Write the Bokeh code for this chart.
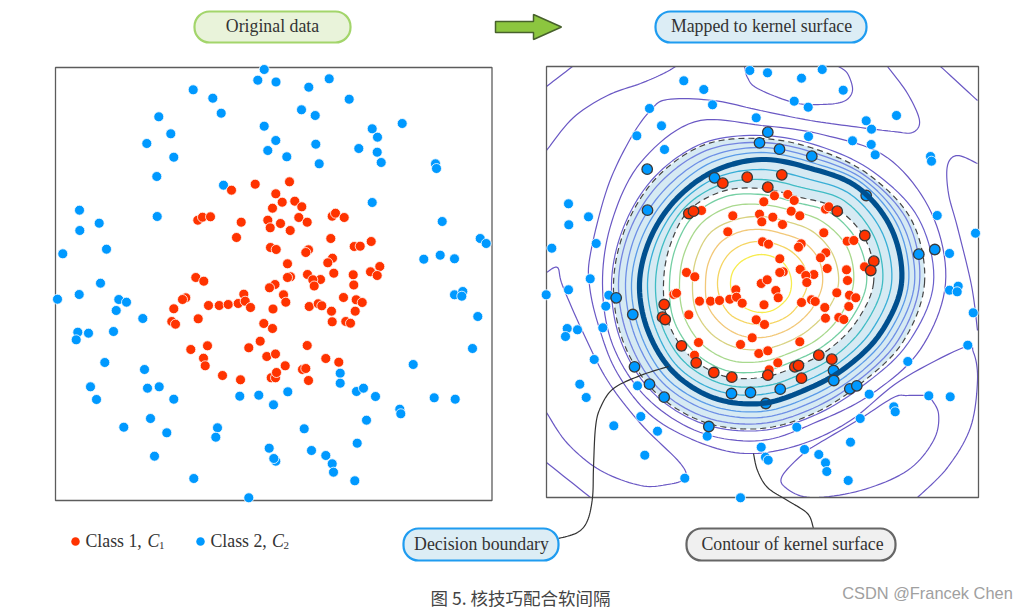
import numpy as np
from bokeh.plotting import figure
from bokeh.models import Range1d
from bokeh.core.properties import value
from bokeh.embed import file_html
from bokeh.resources import INLINE

# ---------- data (image pixel coordinates) ----------
LEFT_BLUE = [(263.7,69),(257.3,79.7),(275.5,81.5),(192.7,89.3),(212.3,97.7),(220.7,112.7),(158.3,116.3),(170.3,133.3),
 (146.3,143),(173.3,156.7),(156.3,176),(263.7,125.7),(275.3,140),(267.3,150),(223,184.7),(79,209.7),(98.7,222.7),
 (79.3,230),(156.7,216),(106,248.7),(62.3,253.3),(100,282.7),(308.3,86.7),(328.7,78.3),(348.7,98.7),(301,109.3),
 (314.7,115),(401.7,123),(371.7,128.3),(377,136.7),(315.3,143.7),(358.3,148),(376.7,151.7),(380.7,162),(286.3,156.3),
 (318.7,163.3),(435,163.3),(436,168),(371.7,202),(441.7,221),(479.7,238),(485.7,243),(423.3,258.7),(439.7,254.7),
 (454,258.3),(57,298.7),(78.7,294),(118.3,299),(126,301.7),(115.7,310),(142.3,318),(77.3,331.7),(88,332.7),(113,331),
 (75.7,339.3),(104.3,362),(144,369),(90,386.3),(147,387.7),(158.7,386.3),(96,399),(173.3,398.7),(150,418),(123.3,426.7),
 (166.3,432.3),(217,427.3),(215.3,436.7),(154,455.7),(193.3,478),(239.3,395.7),(258.3,394.7),(273,404.3),(268.7,447.7),
 (275.3,460.7),(273.3,458),(248.3,497.3),(454,294.3),(462.3,291),(461.3,295.7),(477.3,316),(472,348),(412.7,364),
 (339.7,372.7),(339.7,382.7),(287.3,391.3),(356,391),(363,387.7),(375,396),(433.7,397.3),(454.7,398.7),(399.3,408.7),
 (400.3,413.3),(366,419.7),(303.7,428.3),(356.7,442.7),(311,450),(325.3,455),(331.7,463.3),(333,471.7),(354.3,480.3)]
LEFT_RED = [(231,189.7),(254.7,183.7),(275.3,193.3),(272,207.7),(267.3,219.7),(269.7,227.3),(240.7,221.7),(236,237),
 (270,247),(197.3,219.7),(202,216.7),(210,216.3),(195.3,277),(203.3,280.7),(289,181.3),(281.7,201.7),(294.3,200.7),
 (301.3,206.3),(298.3,217),(306.7,221.7),(280,223),(289.7,230),(330.3,238),(331.7,215.7),(335,212.7),(343.7,217),
 (370.7,241),(353.7,246),(359.7,245.7),(275.7,249),(308,249.3),(305.3,252),(332,257.7),(327.3,262.3),(287,263.3),
 (379.3,266),(370,271.3),(376.7,275),(333.3,272.7),(352.7,274.3),(307,274),(290,276.3),(287,277),(320,279),(312.3,279.3),
 (313.7,285.5),(353.3,284.5),(274.5,284),(185.3,297.3),(182,299),(173.3,308.3),(171.3,321),(175,323.7),(197.7,318.3),
 (208,305),(218.7,305),(227.7,304),(237.7,303),(243.3,293.7),(244.7,300.7),(250,307),(269,287.3),(272.5,308.5),
 (263.3,323),(272,328),(259.7,340.7),(248.3,347.3),(266.3,356),(275,353.5),(207,345.3),(190.3,349),(203,357.7),
 (204.7,365.3),(222,375),(240,379.3),(270.7,377.3),(275,377.3),(276,372),(283,294.3),(285.3,301.7),(308.7,306),
 (317.7,303.3),(321.3,305.3),(331,310.7),(343,297),(355.7,299.3),(361.7,302),(354.7,310.7),(331.7,321.3),(345.3,321),
 (350,322.7),(306.7,345),(284.7,365.3),(325.3,358),(338.3,361.7),(302,369),(305.3,368),(308,380)]

RIGHT_BLUE = [(749.3,70),(767,72.3),(683.3,80.3),(703.3,89),(712,104.3),(649,108),(661,125.3),(636.3,135.3),(664,149),
 (755.7,117.3),(568,203.3),(588,216.3),(568.3,224.3),(595.7,243),(551.3,247.7),(589.7,278.3),(801,77.7),(821.7,69),
 (842.7,89.7),(793.7,100.7),(807.7,106.7),(896,115),(865.7,120.3),(871,128.7),(808,136),(852,140.3),(870.7,144),
 (874.7,154.3),(930,156),(931,160.7),(936.7,215),(975,232.7),(949,253),(545.7,294.3),(568,289.3),(608.3,294.7),
 (605.3,305.7),(602.3,327.3),(566.7,328),(577,329.3),(565,336),(593.7,359),(579.3,383.7),(637,385.3),(585.7,397),
 (640.3,416),(613.3,425.3),(657,430.7),(706.7,435.7),(644.3,454.7),(684.3,477.7),(740,497.3),(760.7,446.7),(765,456.7),
 (767.7,459.7),(949,289.7),(957.7,285.7),(956.7,291.3),(972.7,312.3),(967.3,344.7),(907.3,361),(868.7,393.7),
 (928.3,395.3),(949.7,396.3),(893.3,406.3),(894.7,411.3),(859.7,418),(796.3,426.7),(850,441.7),(804,449),(818.3,454),
 (825,462.3),(826.3,471),(847.7,480)]
RIGHT_BLUE_SV = [(646.7,168.7),(647,209.7),(759,142.3),(767.3,131.7),(714,177.3),(779,148.7),(811.3,155.7),(918.3,253.7),
 (934.3,249),(615.7,297.3),(632.3,314),(634,366.3),(649,383.7),(663.7,396.7),(708.3,426),(731,393),(750,392),
 (833.3,380),(779.7,388.7),(849.3,388.3),(856.3,385.3)]
RIGHT_BLUE_UNDER = [(865.7,195),(833,370),(765.3,403)]
RIGHT_RED_SV = [(746.7,176.7),(722.3,182.7),(767.3,186.7),(688.3,213),(693,210.7),(781.3,174.3),(836.7,210.7),(864.3,235),
 (873.3,260.7),(870.3,270),(663.7,304),(662,316.7),(664.7,319),(681,345.3),(695.7,362.3),(713.3,372),(731.3,376.7),
 (767.3,374.7),(818.3,354.7),(831.3,358.7),(794.3,366.3),(798,365),(801,377.7)]
RIGHT_RED = [(701,210),(732.3,215.3),(727.3,231.3),(759,213.7),(761.3,221.3),(763.3,201.3),(762,241.3),(686,272),
 (694.3,276.3),(760.7,283),(774,195.3),(787.3,194),(793.7,200),(790.7,210.7),(799.3,215.3),(772.3,216.7),(782,224),
 (823.3,232.3),(825,208.7),(828.3,206.3),(846.7,240.7),(853.3,240),(768,243.7),(800.7,243.3),(798,246.7),(825.3,252.3),
 (820,257.3),(779.3,258.3),(826.7,268),(846,269.3),(864,266.3),(799.7,269),(782.7,271.3),(779.3,272),(813.3,274),
 (805.3,275),(806.3,282),(847,280),(766.7,279.3),(673.3,294),(676,292.7),(688.3,314.3),(699,300.7),(710,300.7),
 (719,300),(729.3,298.7),(735.3,289.3),(736,296.7),(741.7,302.7),(763.5,304.3),(755.7,319.3),(764,324),(751.7,337.3),
 (740,344),(698,342),(694,354.7),(758.3,353),(767.3,350.3),(775.3,290),(777.7,297.3),(801,302),(811,299.3),(814.7,301),
 (824.3,307),(836.3,292.3),(849,294.7),(855.3,297.3),(848.3,306),(825,317.7),(838.3,317),(843.3,319),(799.3,341.3),
 (777.3,362.3),(768.7,369.3)]

# radii of the closed contours, one value each 22.5 degrees counter-clockwise from east
RING_CENTER = (761, 283)
R_YELLOW  = [30,30,30,29,29,29,30,31,31,31,30,29,29,29,29,30]
R_2       = [46,46,44,42,42,43,44,44,44,44,44,42,41,41,42,43]
R_3       = [61,62,59,54,54,56,58,57,56,58,57,56,54,53,54,57]
R_4       = [77,77,73,67,67,69,72,70,69,71,71,69,66,64,66,71]
R_5       = [92,93,87,79,79,83,85,83,82,84,85,83,78,75,79,85]
R_6       = [105,105,99,88,89,94,96,93,92,95,96,94,88,84,88,96]
R_INNER   = [112,113,106,94,95,100,103,99,98,101,102,100,94,90,94,102]
R_T1      = [121,122,117,104,104,107,108,106,106,108,110,108,103,99,103,111]
R_T2      = [130,131,126,114,114,115,114,113,114,115,118,116,111,107,111,120]
R_BOUND   = [140,141,136,125,124,122,120,120,122,123,125,124,120,115,119,129]
R_U1      = [147,148,142,131,131,131,128,128,130,131,134,132,128,123,126,136]
R_U2      = [153,153,146,136,136,137,135,135,136,137,140,138,134,129,132,142]
R_U3      = [158,159,150,141,141,144,143,142,143,144,147,145,140,135,137,148]
R_OUTER   = [163,163,153,145,145,150,149,147,148,150,152,150,145,140,141,153]
R_P0      = [172,170,158,149,148,152,151,149,150,152,154,152,147,142,144,158]
R_P1      = [184,184,178,161,158,175,171,162,159,161,162,161,157,149,156,172]

INNER_RINGS = [(R_YELLOW,"#f7ec4e"),(R_2,"#f5d562"),(R_3,"#f2c878"),(R_4,"#d9d281"),(R_5,"#a9d98e"),(R_6,"#74cfa3")]
BAND_RINGS = [(R_T1,"#3fbcc4"),(R_T2,"#38aed6"),(R_U1,"#5a9be8"),(R_U2,"#6d8fe6"),(R_U3,"#7484e0")]
PURPLE = "#6a58c4"

# open purple contours, as traced
C_TL = [(572,66),(546,86)]
C_MAIN = [(887,66),(907,93),(919,120),(912,132),(893,131),(860,127),(810,120),(760,110),(713,100),(667,99),(650,110),
 (630,138),(607,187),(590,253),(589,285),(598,325),(617,373),(653,417),(707,445),(753,453),(803,443),(850,420),
 (900,380),(963,347),(973,352),(977,380),(970,427),(947,467),(917,497)]
C_TOP = [(744,66),(747,77),(757,88),(793,102),(820,104),(843,101),(852,90),(847,73),(838,66)]
C_TL2 = [(675,66),(663,73),(640,83),(607,95),(573,117),(546,150)]
C_TR = [(940,66),(977,100)]
C_RIGHT = [(977,163),(957,155),(947,165),(948,193),(957,227),(971,285),(977,330)]
C_LOOP_L = [(546,272),(557,267),(562,285),(583,333),(607,380),(640,423),(680,463),(684,478),(667,484),(640,485),(600,470),(567,443),(546,412)]
C_BL = [(546,462),(590,497)]
C_LOOP_BR = [(928,395),(907,395),(893,397),(860,418),(818,443),(803,453),(782,475),(785,487),(810,497),(860,490),(907,470),(933,440),(938,413),(928,395)]
OPEN_CURVES = [C_TL, C_MAIN, C_TOP, C_TL2, C_TR, C_RIGHT, C_LOOP_L, C_BL, C_LOOP_BR]

LEADER_1 = [(668,366),(640,375),(613,388),(600,407),(595,427),(593,467),(592,497),(587,520),(577,532),(558,538)]
LEADER_2 = [(753,453),(757,470),(767,487),(787,500),(807,513),(813,528)]

PILLS = [(194,350,11,42,"#e9f3da","#a3d56b"),(655,866,11,42,"#dcedf5","#1f9cf0"),
         (403,558,528,560,"#dcedf5","#1f9cf0"),(686,895,528,560,"#f0f0f0","#666666")]
PILL_LABELS = [(272,25,"Original data"),(761,25,"Mapped to kernel surface"),(481,543,"Decision boundary"),(792,543,"Contour of kernel surface")]
ARROW_X = [495,533,533,561,533,533,495]
ARROW_Y = [21,21,14,26.5,39,32,32]
PANELS = [(55,491.5,67,500),(546,978,66,497)]
LEGEND_DOTS = [(75,541,"#ff3300"),(200,541,"#0099ff")]
CAPTION = "图 5. 核技巧配合软间隔"
WATERMARK = "CSDN @Francek Chen"

# ---------- helpers ----------
def smooth(nodes, closed=False, n=10):
    P = np.array(nodes, float)
    if closed:
        P = np.vstack([P[-1], P, P[0], P[1]])
    else:
        P = np.vstack([P[0], P, P[-1]])
    t = np.linspace(0, 1, n, endpoint=False)[:, None]
    out = []
    for i in range(1, len(P) - 2):
        a, b, c, d = P[i-1], P[i], P[i+1], P[i+2]
        out.append(0.5*((2*b) + (c-a)*t + (2*a-5*b+4*c-d)*t**2 + (3*b-a-3*c+d)*t**3))
    out.append(P[-2][None, :])
    return np.vstack(out)

def ring(radii):
    a = np.radians(np.arange(len(radii))*22.5)
    r = np.array(radii, float)
    return smooth(list(zip(RING_CENTER[0]+r*np.cos(a), RING_CENTER[1]-r*np.sin(a))), closed=True)

def xs(pts): return [q[0] for q in pts]
def ys(pts): return [q[1] for q in pts]

# ---------- figure ----------
p = figure(width=1022, height=610, x_range=Range1d(0, 1022), y_range=Range1d(610, 0),
           x_axis_type=None, y_axis_type=None, toolbar_location=None, output_backend="svg",
           min_border=0, outline_line_color=None, background_fill_color="white")
p.grid.visible = False

# band
o = ring(R_OUTER); i = ring(R_INNER)
p.patch(o[:,0], o[:,1], fill_color="#d6eaf3", line_color=None)
p.patch(i[:,0], i[:,1], fill_color="white", line_color=None)

for c in OPEN_CURVES:
    s = smooth(c)
    p.line(s[:,0], np.minimum(s[:,1], 497), line_color=PURPLE, line_width=1.2)
for r_, col in [(R_P1, PURPLE), (R_P0, "#6a60cc")]:
    s = ring(r_); p.line(s[:,0], s[:,1], line_color=col, line_width=1.2)
for r_, col in INNER_RINGS + BAND_RINGS:
    s = ring(r_); p.line(s[:,0], s[:,1], line_color=col, line_width=1.3)

sv = dict(size=10.5, line_color="#3a3a3a", line_width=1.3)
plain = dict(size=10, line_color="white", line_width=0.8)
p.scatter(xs(RIGHT_BLUE_UNDER), ys(RIGHT_BLUE_UNDER), fill_color="#0099ff", **sv)

s = ring(R_BOUND); p.line(s[:,0], s[:,1], line_color="#00508f", line_width=5.2)
s = ring(R_INNER); p.line(s[:,0], s[:,1], line_color="#444444", line_width=1.2, line_dash="6 4")
s = ring(R_OUTER); p.line(s[:,0], s[:,1], line_color="#444444", line_width=1.2, line_dash="6 4")

# panels
for l, r, t, b in PANELS:
    p.quad(left=l, right=r, top=t, bottom=b, fill_color=None, line_color="#5c5c5c", line_width=1.3)

# leaders
for c in (LEADER_1, LEADER_2):
    s = smooth(c); p.line(s[:,0], s[:,1], line_color="#333333", line_width=1.2)

# points
p.scatter(xs(LEFT_BLUE), ys(LEFT_BLUE), fill_color="#0099ff", **plain)
p.scatter(xs(LEFT_RED), ys(LEFT_RED), fill_color="#ff3300", **plain)
p.scatter(xs(RIGHT_BLUE), ys(RIGHT_BLUE), fill_color="#0099ff", **plain)
p.scatter(xs(RIGHT_RED), ys(RIGHT_RED), fill_color="#ff3300", **plain)
p.scatter(xs(RIGHT_BLUE_SV), ys(RIGHT_BLUE_SV), fill_color="#0099ff", **sv)
p.scatter(xs(RIGHT_RED_SV), ys(RIGHT_RED_SV), fill_color="#ff3300", **sv)

# pills
for l, r, t, b, f, e in PILLS:
    p.quad(left=l, right=r, top=t, bottom=b, fill_color=f, line_color=e, line_width=2.2, border_radius=15)
serif = value("Liberation Serif")
for x, y, t in PILL_LABELS:
    p.text([x], [y], text=[t], text_font=serif, text_font_size="17.8px", text_color="#333333",
           text_align="center", text_baseline="middle")

# arrow
p.patch(ARROW_X, ARROW_Y, fill_color="#8cc63f", line_color="#47612c", line_width=1.5)

# legend
for x, y, col in LEGEND_DOTS:
    p.scatter([x], [y], size=8.5, fill_color=col, line_color=None)
for x, name in [(85, "Class 1, "), (210, "Class 2, ")]:
    p.text([x], [540], text=[name], text_font=serif, text_font_size="17.8px", text_color="#333333",
           text_align="left", text_baseline="middle")
for x in (147, 271.5):
    p.text([x], [540], text=["C"], text_font=serif, text_font_style="italic", text_font_size="17.8px",
           text_color="#333333", text_align="left", text_baseline="middle")
for x, t in ((158.5, "1"), (283, "2")):
    p.text([x], [545], text=[t], text_font=serif, text_font_size="11px", text_color="#333333",
           text_align="left", text_baseline="middle")

p.text([520], [597], text=[CAPTION], text_font=value("Noto Sans CJK SC"), text_font_size="17.5px", text_color="#444444",
       text_align="center", text_baseline="middle")
p.text([927], [592], text=[WATERMARK], text_font=value("Liberation Sans"), text_font_size="16.4px", text_color="#a0a0a0",
       text_align="center", text_baseline="middle")

open("out.html", "w").write(file_html(p, INLINE))
